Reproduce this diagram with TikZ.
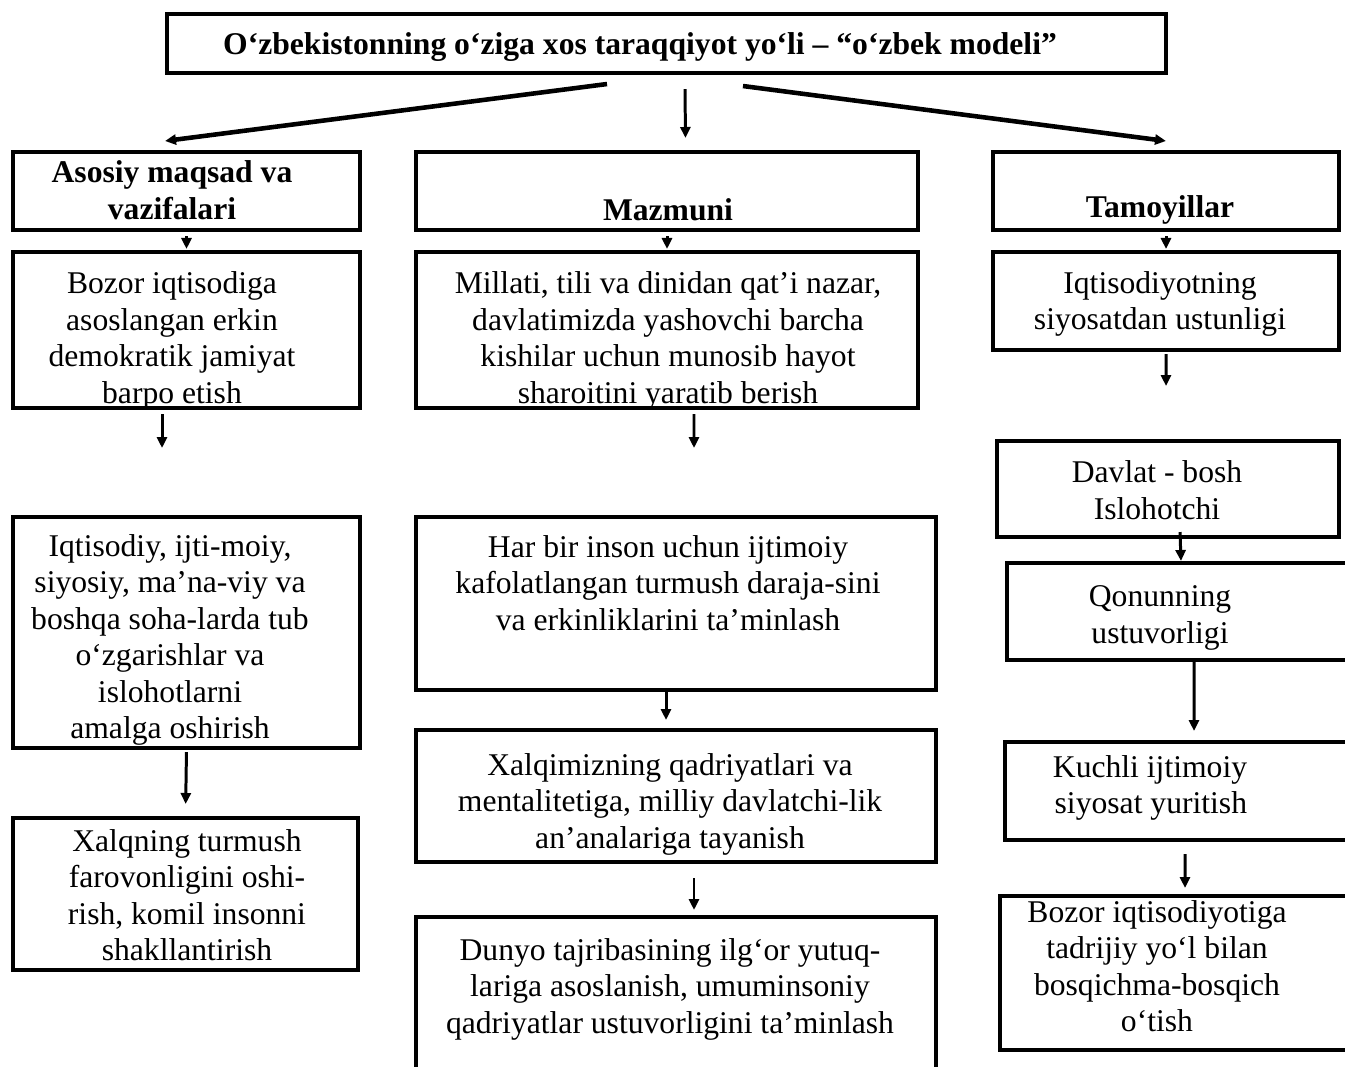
\documentclass[tikz,border=0pt]{standalone}
\usepackage{fontspec}
\setmainfont{Liberation Serif}
\usetikzlibrary{arrows.meta}

\tikzset{
  box/.style={draw, line width=2.3pt, inner sep=0pt},
  txt/.style={align=center, font=\fontsize{18}{20.8}\selectfont},
  hdr/.style={align=center, font=\fontsize{18}{20.8}\selectfont\bfseries},
  arr/.style={-{Triangle[length=0.22cm,width=0.2cm]}, line width=1.7pt},
  bigarr/.style={arr, line width=2.6pt}
}
% box from pixel corners: name, x1, y1, x2, y2
\newcommand{\pbox}[5]{%
  \node[box, minimum width={(#4-#2)*0.02cm}, minimum height={(#5-#3)*0.02cm}]
    (#1) at ({(#2+#4)/2},{(#3+#5)/2}) {};}

\begin{document}
\begin{tikzpicture}[x=0.02cm, y=-0.02cm]
    \useasboundingbox (0,0) rectangle (1345,1066);

    % Boxes
    \pbox{title}{167}{14}{1166}{73}
    \pbox{hA}{13}{152}{360}{230}
    \pbox{hM}{416}{152}{918}{230}
    \pbox{hT}{993}{152}{1339}{230}
    \pbox{A2}{13}{252}{360}{408}
    \pbox{M2}{416}{252}{918}{408}
    \pbox{T2}{993}{252}{1339}{350}
    \pbox{A3}{13}{517}{360}{748}
    \pbox{M3}{416}{517}{936}{690}
    \pbox{T3}{997}{441}{1339}{537}
    \pbox{T4}{1007}{563}{1352}{660}
    \pbox{A4}{13}{818}{358}{970}
    \pbox{M4}{416}{730}{936}{862}
    \pbox{M5}{416}{917}{936}{1085}
    \pbox{T5}{1005}{742}{1352}{840}
    \pbox{T6}{1000}{896}{1352}{1050}

    % Texts
    \node[hdr] (tTitle) at (640,47) {O‘zbekistonning o‘ziga xos taraqqiyot yo‘li – “o‘zbek modeli”};
    \node[hdr] (thA) at (172,190) {Asosiy maqsad va\\vazifalari};
    \node[hdr] (thM) at (668,210) {Mazmuni};
    \node[hdr] (thT) at (1160,210) {Tamoyillar};
    \node[txt] (tA2) at (172,341) {Bozor iqtisodiga\\asoslangan erkin\\demokratik jamiyat\\barpo etish};
    \node[txt] (tM2) at (668,341) {Millati, tili va dinidan qat’i nazar,\\davlatimizda yashovchi barcha\\kishilar uchun munosib hayot\\sharoitini yaratib berish};
    \node[txt] (tT2) at (1160,304) {Iqtisodiyotning\\siyosatdan ustunligi};
    \node[txt] (tA3) at (170,640) {Iqtisodiy, ijti-moiy,\\siyosiy, ma’na-viy va\\boshqa soha-larda tub\\o‘zgarishlar va\\islohotlarni\\amalga oshirish};
    \node[txt] (tM3) at (668,583) {Har bir inson uchun ijtimoiy\\kafolatlangan turmush daraja-sini\\va erkinliklarini ta’minlash};
    \node[txt] (tT3) at (1157,490) {Davlat - bosh\\Islohotchi};
    \node[txt] (tT4) at (1160,618) {Qonunning\\ustuvorligi};
    \node[txt] (tA4) at (187,895) {Xalqning turmush\\farovonligini oshi-\\rish, komil insonni\\shakllantirish};
    \node[txt] (tM4) at (670,804) {Xalqimizning qadriyatlari va\\mentalitetiga, milliy davlatchi-lik\\an’analariga tayanish};
    \node[txt, align=right] (tT5) at (1150,788) {Kuchli ijtimoiy\\siyosat yuritish};
    \node[txt] (tM5) at (670,989) {Dunyo tajribasining ilg‘or yutuq-\\lariga asoslanish, umuminsoniy\\qadriyatlar ustuvorligini ta’minlash};
    \node[txt] (tT6) at (1157,966) {Bozor iqtisodiyotiga\\tadrijiy yo‘l bilan\\bosqichma-bosqich\\o‘tish};

    % Arrows from the title
    \draw[bigarr] ([xshift=-1.19cm,yshift=-0.18cm]title.south) -- ([xshift=-0.43cm,yshift=0.18cm]hA.north);
    \draw[arr] ([xshift=0.37cm,yshift=-0.28cm]title.south) -- ([xshift=0.37cm,yshift=0.24cm]hM.north);
    \draw[bigarr] ([xshift=1.53cm,yshift=-0.22cm]title.south) -- ([yshift=0.18cm]hT.north);

    % Arrows down the columns
    \draw[arr, shorten <=0.08cm, shorten >=0.02cm] (hA.south) -- (A2.north);
    \draw[arr, shorten <=0.08cm, shorten >=0.02cm] (hM.south) -- (M2.north);
    \draw[arr, shorten <=0.08cm, shorten >=0.02cm] (hT.south) -- (T2.north);
    \draw[arr, shorten <=0.08cm, shorten >=1.34cm] ([xshift=-0.49cm]A2.south) -- ([xshift=-0.49cm]A3.north);
    \draw[arr, shorten <=0.08cm, shorten >=1.34cm] ([xshift=0.54cm]M2.south) -- ([xshift=0.36cm]M3.north);
    \draw[arr, shorten <=0.04cm, shorten >=1.06cm] (T2.south) -- ([xshift=-0.04cm]T3.north);
    \draw[arr, shorten <=0.04cm, shorten >=0.24cm] (A3.south) -- (A4.north);
    \draw[arr, shorten >=0.16cm] ([xshift=-0.2cm]M3.south) -- ([xshift=-0.2cm]M4.north);
    \draw[arr, shorten <=0.28cm, shorten >=0.1cm] ([xshift=0.36cm]M4.south) -- ([xshift=0.36cm]M5.north);
    \draw[arr] ([xshift=0.24cm,yshift=0.14cm]T3.south) -- ([xshift=0.03cm]T4.north);
    \draw[arr, shorten >=0.18cm] ([xshift=0.29cm]T4.south) -- ([xshift=0.31cm]T5.north);
    \draw[arr, shorten <=0.24cm, shorten >=0.12cm] ([xshift=0.13cm]T5.south) -- ([xshift=0.18cm]T6.north);
\end{tikzpicture}
\end{document}
